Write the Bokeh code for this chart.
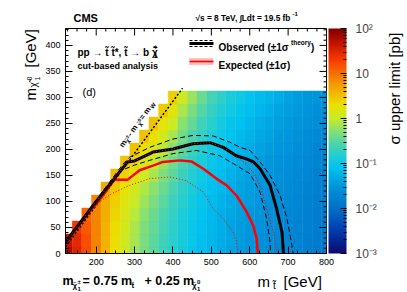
import math
from bokeh.plotting import figure
from bokeh.models import (ColumnDataSource, LinearColorMapper, LogColorMapper, ColorBar,
                          FixedTicker, Label, Arrow, Range1d)
from bokeh.embed import file_html
from bokeh.resources import INLINE

# ---------------- data ----------------
stop_mass = [125, 150, 175, 200, 225, 250, 275, 300, 325, 350, 375, 400, 425, 450,
             475, 500, 525, 550, 575, 600, 625, 650, 675, 700, 725, 750, 775, 800]
lsp_mass = [0, 25, 50, 75, 100, 125, 150, 175, 200, 225, 250, 275, 300]
N = None
# log10 of sigma upper limit [pb], one list per LSP-mass row
log10_limit_lsp000 = [1.80, 1.50, 1.20, 0.90, 0.60, 0.30, 0.05, -0.15, -0.35, -0.50, -0.65, -0.80, -0.92, -1.03,
                      -1.13, -1.22, -1.30, -1.37, -1.44, -1.50, -1.56, -1.61, -1.66, -1.71, -1.75, -1.79, -1.83, -1.87]
log10_limit_lsp025 = [1.65, 1.46, 1.18, 0.90, 0.60, 0.31, 0.06, -0.14, -0.34, -0.49, -0.64, -0.79, -0.91, -1.02,
                      -1.13, -1.22, -1.30, -1.37, -1.44, -1.50, -1.56, -1.61, -1.66, -1.71, -1.75, -1.79, -1.83, -1.87]
log10_limit_lsp050 = [N, 1.35, 1.13, 0.89, 0.61, 0.33, 0.09, -0.11, -0.31, -0.46, -0.61, -0.77, -0.89, -1.01,
                      -1.11, -1.20, -1.28, -1.36, -1.43, -1.49, -1.55, -1.60, -1.65, -1.70, -1.74, -1.78, -1.82, -1.86]
log10_limit_lsp075 = [N, N, 1.05, 0.87, 0.62, 0.36, 0.13, -0.06, -0.26, -0.41, -0.57, -0.73, -0.86, -0.98,
                      -1.09, -1.18, -1.27, -1.34, -1.41, -1.47, -1.53, -1.59, -1.64, -1.69, -1.73, -1.77, -1.81, -1.85]
log10_limit_lsp100 = [N, N, N, 0.85, 0.63, 0.41, 0.20, 0.01, -0.18, -0.34, -0.50, -0.67, -0.81, -0.94,
                      -1.05, -1.15, -1.24, -1.32, -1.39, -1.45, -1.51, -1.57, -1.62, -1.67, -1.71, -1.76, -1.80, -1.84]
log10_limit_lsp125 = [N, N, N, N, 0.65, 0.47, 0.28, 0.10, -0.09, -0.25, -0.42, -0.59, -0.75, -0.89,
                      -1.01, -1.11, -1.20, -1.28, -1.36, -1.43, -1.49, -1.54, -1.60, -1.65, -1.69, -1.74, -1.78, -1.82]
log10_limit_lsp150 = [N, N, N, N, N, 0.55, 0.38, 0.22, 0.03, -0.14, -0.32, -0.50, -0.68, -0.82,
                      -0.95, -1.07, -1.16, -1.25, -1.33, -1.39, -1.46, -1.51, -1.57, -1.62, -1.67, -1.71, -1.76, -1.80]
log10_limit_lsp175 = [N, N, N, N, N, N, 0.50, 0.35, 0.16, -0.01, -0.20, -0.39, -0.59, -0.75,
                      -0.89, -1.01, -1.11, -1.20, -1.28, -1.35, -1.42, -1.48, -1.54, -1.59, -1.64, -1.68, -1.73, -1.77]
log10_limit_lsp200 = [N, N, N, N, N, N, N, 0.50, 0.32, 0.14, -0.07, -0.27, -0.49, -0.66,
                      -0.81, -0.94, -1.06, -1.15, -1.24, -1.31, -1.38, -1.44, -1.50, -1.55, -1.60, -1.65, -1.70, -1.74]
log10_limit_lsp225 = [N, N, N, N, N, N, N, N, 0.50, 0.31, 0.09, -0.13, -0.37, -0.56,
                      -0.73, -0.87, -0.99, -1.09, -1.18, -1.26, -1.33, -1.39, -1.46, -1.51, -1.56, -1.62, -1.66, -1.70]
log10_limit_lsp250 = [N, N, N, N, N, N, N, N, N, 0.50, 0.26, 0.03, -0.25, -0.45,
                      -0.64, -0.79, -0.92, -1.03, -1.12, -1.20, -1.28, -1.34, -1.41, -1.47, -1.52, -1.57, -1.62, -1.66]
log10_limit_lsp275 = [N, N, N, N, N, N, N, N, N, N, 0.45, 0.21, -0.11, -0.33,
                      -0.53, -0.70, -0.84, -0.96, -1.05, -1.14, -1.22, -1.28, -1.36, -1.42, -1.47, -1.53, -1.58, -1.62]
log10_limit_lsp300 = [N, N, N, N, N, N, N, N, N, N, N, 0.40, 0.05, -0.20,
                      -0.42, -0.60, -0.75, -0.88, -0.98, -1.07, -1.15, -1.22, -1.30, -1.36, -1.42, -1.48, -1.53, -1.57]

# contours (m_stop, m_LSP) in GeV
obs_x = [120, 200, 282, 300, 348, 400, 452, 496, 531, 565, 591, 610, 627, 653, 670, 684, 688]
obs_y = [22, 100, 176, 178, 195, 201, 211, 213, 204, 188, 182, 176, 163, 131, 86, 41, 0]
obs_up_x = [120, 200, 270, 287, 339, 400, 452, 505, 548, 575, 601, 627, 653, 679, 697, 710, 713]
obs_up_y = [24, 103, 172, 185, 204, 220, 227, 226, 214, 204, 198, 176, 150, 112, 67, 15, 0]
obs_dn_x = [120, 200, 260, 300, 339, 400, 461, 522, 566, 601, 627, 644, 653, 654]
obs_dn_y = [20, 98, 158, 170, 179, 192, 198, 188, 169, 153, 118, 67, 22, 0]
exp_x = [120, 217, 247, 282, 313, 348, 374, 418, 448, 479, 513, 540, 566, 592, 609, 618, 621]
exp_y = [24, 111, 142, 142, 160, 169, 176, 179, 177, 163, 144, 131, 111, 80, 54, 28, 0]
exp_dn_x = [120, 195, 240, 287, 339, 392, 435, 479, 505, 531, 557, 566, 568]
exp_dn_y = [22, 92, 115, 131, 144, 147, 140, 118, 86, 67, 41, 22, 0]
exp_up_x = [120, 200, 282, 300, 348, 400, 452, 496, 531, 560, 590, 610, 627, 644, 662, 671]
exp_up_y = [22, 100, 176, 178, 195, 201, 211, 213, 204, 190, 172, 155, 131, 86, 41, 0]
# m_chargino - m_LSP = m_W line
mw_line_x = [120, 425]
mw_line_y = [12.8, 317.8]

x_ticks = [200, 300, 400, 500, 600, 700, 800]
y_ticks = [0, 50, 100, 150, 200, 250, 300, 350, 400]
cbar_ticks = [0.001, 0.01, 0.1, 1, 10, 100]
cbar_labels = ["10\u207b\u00b3", "10\u207b\u00b2", "10\u207b\u00b9", "1", "10", "10\u00b2"]

# ---------------- palette (ROOT-like rainbow) ----------------
anchor_pos = [0.00, 0.10, 0.20, 0.30, 0.38, 0.43, 0.49, 0.55, 0.60, 0.66, 0.72, 0.78, 0.86, 0.93, 1.00]
anchor_rgb = [(15, 10, 110), (0, 60, 175), (0, 112, 200), (0, 150, 220), (0, 195, 240), (30, 205, 215),
              (80, 212, 170), (140, 225, 110), (200, 235, 40), (235, 225, 0), (242, 180, 0),
              (245, 130, 0), (250, 60, 0), (200, 20, 0), (130, 0, 0)]
palette = []
for i in range(256):
    t = i / 255
    for k in range(len(anchor_pos) - 1):
        if anchor_pos[k] <= t <= anchor_pos[k + 1]:
            f = (t - anchor_pos[k]) / (anchor_pos[k + 1] - anchor_pos[k])
            c = [round(a + (b - a) * f) for a, b in zip(anchor_rgb[k], anchor_rgb[k + 1])]
            break
    palette.append('#%02x%02x%02x' % tuple(c))

rows = [log10_limit_lsp000, log10_limit_lsp025, log10_limit_lsp050, log10_limit_lsp075,
        log10_limit_lsp100, log10_limit_lsp125, log10_limit_lsp150, log10_limit_lsp175,
        log10_limit_lsp200, log10_limit_lsp225, log10_limit_lsp250, log10_limit_lsp275,
        log10_limit_lsp300]
cx, cy, cv = [], [], []
for yv, row in zip(lsp_mass, rows):
    for xv, v in zip(stop_mass, row):
        if v is not None:
            cx.append(xv); cy.append(yv); cv.append(v)
src = ColumnDataSource(dict(x=cx, y=cy, v=cv))

FONT = "Liberation Sans"
FL, FT, FB = 65, 28, 253   # frame left / top / bottom on the page
FW, FH = 261, 225
X0, X1, Y0, Y1 = 120, 800, 0, 432.5
p = figure(frame_width=FW, frame_height=FH, x_range=Range1d(X0, X1), y_range=Range1d(Y0, Y1),
           output_backend="svg", toolbar_location=None,
           min_border_left=FL, min_border_right=81, min_border_top=FT, min_border_bottom=39)
p.background_fill_color = "white"
p.border_fill_color = "white"
p.outline_line_color = "black"
p.outline_line_width = 1
p.xgrid.grid_line_color = None
p.ygrid.grid_line_color = None

cmap = LinearColorMapper(palette=palette, low=-3, high=2)
p.rect('x', 'y', width=25, height=25, source=src,
       fill_color={'field': 'v', 'transform': cmap},
       line_color={'field': 'v', 'transform': cmap}, line_width=0.4)

p.line(mw_line_x, mw_line_y, line_color="black", line_width=1.5, line_dash="2 2")
p.line(exp_dn_x, exp_dn_y, line_color="red", line_width=1, line_dash="1 2")
p.line(obs_up_x, obs_up_y, line_color="black", line_width=1, line_dash="5 3")
p.line(obs_dn_x, obs_dn_y, line_color="black", line_width=1, line_dash="5 3")
p.line(exp_x, exp_y, line_color="red", line_width=2.5)
p.line(obs_x, obs_y, line_color="black", line_width=3)
p.line(exp_up_x, exp_up_y, line_color="red", line_width=1, line_dash="1 2")

x_minor = list(range(125, 801, 25))
y_minor = list(range(0, 431, 10))
xt = FixedTicker(ticks=x_ticks, minor_ticks=x_minor)
yt = FixedTicker(ticks=y_ticks, minor_ticks=y_minor)

for ax, tk in ((p.xaxis[0], xt), (p.yaxis[0], yt)):
    ax.ticker = tk
    ax.major_tick_in = 7
    ax.major_tick_out = 0
    ax.minor_tick_in = 3
    ax.minor_tick_out = 0
    ax.major_label_text_font = FONT
    ax.major_label_text_font_size = "9px"
    ax.major_label_text_color = "black"
    ax.axis_line_color = "black"
    ax.major_label_standoff = 5

# mirrored ticks on the top and right frame edges (lengths given in pixels)
gx = (X1 - X0) / FW   # GeV per pixel, horizontal
gy = (Y1 - Y0) / FH   # GeV per pixel, vertical
tx = [t for t in x_minor if t not in x_ticks]
ty = [t for t in y_minor if t not in y_ticks]
p.segment(x0=x_ticks, y0=[Y1] * len(x_ticks), x1=x_ticks, y1=[Y1 - 7 * gy] * len(x_ticks), line_color="black", line_width=1)
p.segment(x0=tx, y0=[Y1] * len(tx), x1=tx, y1=[Y1 - 3 * gy] * len(tx), line_color="black", line_width=1)
p.segment(x0=[X1] * len(y_ticks), y0=y_ticks, x1=[X1 - 7 * gx] * len(y_ticks), y1=y_ticks, line_color="black", line_width=1)
p.segment(x0=[X1] * len(ty), y0=ty, x1=[X1 - 3 * gx] * len(ty), y1=ty, line_color="black", line_width=1)

cb_mapper = LogColorMapper(palette=palette, low=1e-3, high=1e2)
minor_cb = [m * 10 ** e for e in range(-3, 2) for m in range(2, 10)]
cb = ColorBar(color_mapper=cb_mapper, ticker=FixedTicker(ticks=cbar_ticks, minor_ticks=minor_cb),
              major_label_overrides={t: l for t, l in zip(cbar_ticks, cbar_labels)},
              width=18, padding=0, margin=0, label_standoff=9, location=(2, 0),
              major_label_text_font=FONT, major_label_text_font_size="12px",
              major_tick_line_color="black", major_tick_in=6, major_tick_out=0,
              minor_tick_line_color="black", minor_tick_in=3, minor_tick_out=0,
              bar_line_color=None, border_line_color=None, background_fill_alpha=0)
p.add_layout(cb, "right")


def put_in(text, px, py, size, bold=False, align='left', baseline='alphabetic', angle=0.0):
    """text inside the frame; page coordinates -> frame-relative screen units"""
    p.add_layout(Label(x=px - FL, y=FB - py, x_units='screen', y_units='screen', text=text,
                       text_font=FONT, text_font_size=f'{size}px',
                       text_font_style='bold' if bold else 'normal',
                       text_align=align, text_baseline=baseline, angle=angle, text_color='black'))


def seg(px0, py0, px1, py1, color, width, dash='solid'):
    p.add_layout(Arrow(end=None, x_start=px0 - FL, y_start=FB - py0, x_end=px1 - FL, y_end=FB - py1,
                       start_units='screen', end_units='screen', line_color=color,
                       line_width=width, line_dash=dash))


CHI = "\u03c7\u0303"
TIL_T = "t\u0303"
UP = math.pi / 2

# ---- texts inside the frame ----
put_in(f"pp \u2192 {TIL_T} {TIL_T}*, {TIL_T} \u2192 b {CHI}", 77, 51.5, 10, bold=True)
put_in("+", 153, 47, 7, bold=True)
put_in("1", 153, 55, 7, bold=True)
put_in("cut-based analysis", 77, 65, 9, bold=True)
put_in("(d)", 82, 91, 11)

# legend
seg(189, 43, 213, 43, "black", 3)
seg(189, 40, 213, 40, "black", 1, "3 2")
seg(189, 46, 213, 46, "black", 1, "3 2")
put_in("Observed (\u00b11\u03c3", 218, 47, 10, bold=True)
put_in("theory", 290.5, 42, 6.5, bold=True)
put_in(")", 310.5, 47, 10, bold=True)
seg(189, 61, 213, 61, "red", 2)
seg(189, 58.5, 213, 58.5, "red", 1, "1 1")
seg(189, 63.5, 213, 63.5, "red", 1, "1 1")
put_in("Expected (\u00b11\u03c3)", 218, 65, 10, bold=True)

# diagonal label (rotated)
a = math.radians(54)
ux, uy = math.cos(a), -math.sin(a)
nx, ny = math.sin(a), math.cos(a)
sx0, sy0 = 120.5, 146.0
adv = 0.0
for txt, size, shift, w in [("m", 8, 0, 7.0), (CHI, 6, 2, 3.3), ("\u00b1", 5, -1, 3.2),
                            (" - m", 8, 0, 14.0), (CHI, 6, 2, 3.3), ("0", 5, -1, 3.2),
                            (" = m", 8, 0, 15.0), ("W", 6, 2, 5.7)]:
    put_in(txt, sx0 + adv * ux + shift * nx, sy0 + adv * uy + shift * ny, size, bold=True, angle=a)
    adv += w

# ---------------- transparent overlay for the texts around the frame ----------------
q = figure(width=407, height=292, x_range=Range1d(0, 407), y_range=Range1d(292, 0),
           output_backend="svg", toolbar_location=None, min_border=0,
           x_axis_type=None, y_axis_type=None)
q.title.visible = False
q.outline_line_color = None
q.background_fill_alpha = 0
q.border_fill_alpha = 0
q.styles = {"position": "absolute", "left": "0px", "top": "0px"}


def put_out(text, px, py, size, bold=False, align='left', baseline='alphabetic', angle=0.0):
    q.add_layout(Label(x=px, y=py, text=text, text_font=FONT, text_font_size=f'{size}px',
                       text_font_style='bold' if bold else 'normal',
                       text_align=align, text_baseline=baseline, angle=angle, text_color='black'))


put_out("CMS", 73, 17, 11, bold=True)
put_out("\u221as = 8 TeV, \u222bLdt = 19.5 fb", 195, 17, 8.3, bold=True)
put_out("-1", 292, 13, 6, bold=True)
# y-axis title
put_out("m", 29.5, 100, 15, angle=UP)
put_out(CHI, 33, 87, 10, angle=UP)
put_out("0", 28.5, 80, 7, angle=UP)
put_out("1", 36.5, 80, 7, angle=UP)
put_out("[GeV]", 29.5, 67, 15, angle=UP)
# x-axis title
put_out("m", 257, 281, 15)
put_out(TIL_T, 272.5, 285, 10)
put_out("[GeV]", 283, 281, 15)
# bottom formula
put_out("m", 62, 280.5, 12.5, bold=True)
put_out(CHI, 72, 284.5, 8, bold=True)
put_out("\u00b1", 77, 281, 6, bold=True)
put_out("1", 77, 288, 6, bold=True)
put_out("= 0.75 m", 82, 280.5, 12.5, bold=True)
put_out(TIL_T, 131, 284.5, 8, bold=True)
put_out("+ 0.25 m", 144, 280.5, 12.5, bold=True)
put_out(CHI, 191.5, 284.5, 8, bold=True)
put_out("0", 196.5, 281, 6, bold=True)
put_out("1", 196.5, 288.5, 6, bold=True)
# colour bar title
put_out("\u03c3 upper limit [pb]", 394, 88, 15, align='center', baseline='middle', angle=UP)

open("out.html", "w").write(file_html([p, q], INLINE))
